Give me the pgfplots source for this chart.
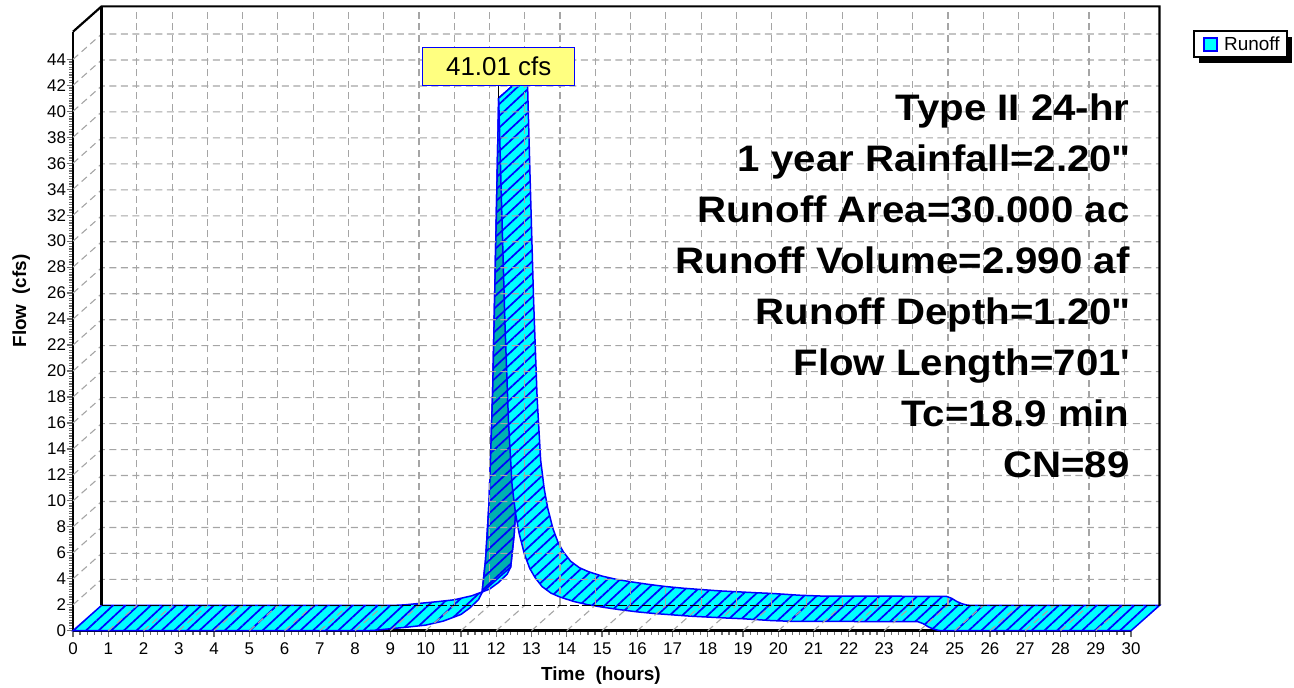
\documentclass[border=0pt]{standalone}
\usepackage{fontspec}
\setmainfont{Liberation Sans}
\newfontfamily\infofam[FakeStretch=1.09]{Liberation Sans}
\usepackage{pgfplots}
\usepackage{pgfplotstable}
\pgfplotsset{compat=1.18}
\usepgfplotslibrary{fillbetween}
\usetikzlibrary{patterns.meta}

\definecolor{ribbon}{RGB}{0,255,255}
\definecolor{ribbondark}{RGB}{0,176,176}
\definecolor{edgeblue}{RGB}{0,0,255}
\definecolor{gridgray}{RGB}{165,165,165}
\definecolor{tickgray}{RGB}{110,110,110}
\definecolor{tagyellow}{RGB}{255,255,128}

% runoff hydrograph, front edge of the ribbon (hours, cfs)
\pgfplotstableread{
t      q
0.00   0.00
8.30   0.00
8.60   0.04
9.00   0.15
9.50   0.28
10.00  0.43
10.50  0.74
11.00  1.25
11.25  1.75
11.50  2.40
11.60  2.95
11.70  5.50
11.80  10.00
11.90  18.50
12.00  31.50
12.07  41.01
12.15  33.00
12.25  23.50
12.35  16.00
12.45  11.20
12.55  9.00
12.65  7.50
12.80  5.90
12.95  4.80
13.10  4.10
13.30  3.40
13.55  2.90
13.80  2.60
14.20  2.25
14.60  2.00
15.00  1.82
15.50  1.62
16.00  1.45
16.50  1.32
17.00  1.22
17.50  1.12
18.00  1.05
18.50  0.98
19.00  0.92
19.40  0.85
19.80  0.78
20.40  0.72
21.00  0.72
22.00  0.71
23.00  0.70
23.95  0.70
24.10  0.55
24.25  0.30
24.40  0.12
24.55  0.02
24.65  0.00
30.00  0.00
}\runoff

\tikzset{
  gridline/.style={gridgray, line width=1.1bp, dash pattern=on 7bp off 4.5bp},
  hatch/.style={postaction={pattern={Lines[angle=43,distance=8.6bp,line width=1.7bp]}, pattern color=edgeblue}},
  ribbonedge/.style={draw=edgeblue, line width=1.5bp},
}
\newcommand{\infofont}{\infofam\fontsize{37}{40}\selectfont\bfseries}
\newcommand{\labfont}{\fontsize{19}{21}\selectfont\bfseries}

\begin{document}
\begin{tikzpicture}
\path (0,0) rectangle (1294bp,685bp);
\begin{axis}[
  at={(73bp,54.3bp)}, anchor=south west,
  scale only axis, width=1058bp, height=599bp,
  xmin=0, xmax=30, ymin=0, ymax=46.13,
  axis x line*=bottom, axis y line*=left,
  x axis line style={-, black, line width=3bp},
  y axis line style={-, black, line width=2.5bp},
  xtick={0,1,...,30}, ytick={0,2,...,44},
  minor x tick num=4, minor y tick num=9,
  tick align=outside,
  major tick length=6.5bp, minor tick length=4bp,
  tick style={tickgray, line width=1.2bp},
  ticklabel style={font=\fontsize{17}{19}\selectfont},
  yticklabel style={xshift=3bp},
  xticklabel style={yshift=-2bp},
  /pgf/number format/assume math mode=true,
  clip=false,
]
% back wall, side wall and floor grid
\pgfplotsinvokeforeach{1,...,29}{
  \draw[gridline] (axis cs:#1,0) ++(axis direction cs:0.81,1.95) -- ++(axis direction cs:0,46.13);
  \draw[gridline] (axis cs:#1,0) -- ++(axis direction cs:0.81,1.95);
}
\pgfplotsinvokeforeach{2,4,...,44}{
  \draw[gridline] (axis cs:0,#1) -- ++(axis direction cs:0.81,1.95) -- ++(axis direction cs:30,0);
}
\draw[black, line width=1.5bp, dash pattern=on 9bp off 3bp] (axis cs:0,0) ++(axis direction cs:0.81,1.95) -- ++(axis direction cs:30,0);
\draw[black, line width=2.5bp] (axis cs:0,0) ++(axis direction cs:0.81,1.95) -- ++(axis direction cs:0,46.13);
\draw[black, line width=2.2bp] (axis cs:0,46.13) -- ++(axis direction cs:0.81,1.95) -- ++(axis direction cs:30,0) -- ++(axis direction cs:0,-46.13);

% ribbon edges: front curve and the same curve pushed back in depth
\addplot[draw=none, forget plot, name path=FL, restrict x to domain=-1:12.08] table[x=t, y=q] {\runoff};
\addplot[draw=none, forget plot, name path=BL, restrict x to domain=0:12.89] table[x expr=\thisrow{t}+0.81, y expr=\thisrow{q}+1.95] {\runoff};
\addplot[draw=none, forget plot, name path=FU, restrict x to domain=11.59:12.08] table[x=t, y=q] {\runoff};
\addplot[draw=none, forget plot, name path=BU, restrict x to domain=12.40:12.89] table[x expr=\thisrow{t}+0.81, y expr=\thisrow{q}+1.95] {\runoff};
\addplot[draw=none, forget plot, name path=FR, restrict x to domain=12.06:31] table[x=t, y=q] {\runoff};
\addplot[draw=none, forget plot, name path=BR, restrict x to domain=12.87:32] table[x expr=\thisrow{t}+0.81, y expr=\thisrow{q}+1.95] {\runoff};

\addplot[fill=ribbon, ribbonedge, hatch, forget plot] fill between[of=FL and BL];
\addplot[fill=ribbondark, ribbonedge, hatch, forget plot] fill between[of=FU and BU];
\addplot[fill=ribbon, ribbonedge, hatch, forget plot] fill between[of=FR and BR];

% peak tag
\draw[black, line width=1bp] (axis cs:12.07,41.01) -- ++(0,12bp)
  node[anchor=south, fill=tagyellow, draw=edgeblue, line width=1.5bp, minimum width=152bp,
       minimum height=38bp, inner sep=0pt, font=\fontsize{26}{28}\selectfont] {41.01 cfs};
\end{axis}

% legend
\fill[black] (1199bp,622bp) rectangle (1292bp,648bp);
\draw[black, fill=white, line width=1.3bp] (1194bp,628bp) rectangle (1287bp,654bp);
\draw[edgeblue, fill=ribbon, line width=1.3bp] (1204bp,634bp) rectangle (1217bp,647bp);
\node[anchor=base west, inner sep=0pt, font=\fontsize{19}{21}\selectfont] at (1224bp,634bp) {Runoff};

\node[rotate=90, anchor=base, font=\labfont] at (26bp,384bp) {Flow\hspace{10bp}(cfs)};
\node[anchor=base, font=\labfont] at (601bp,5bp) {Time\ \ (hours)};

\node[anchor=base east, font=\infofont] at (1133bp,564bp) {Type II 24-hr};
\node[anchor=base east, font=\infofont] at (1133bp,513bp) {1 year Rainfall=2.20\textquotedbl};
\node[anchor=base east, font=\infofont] at (1133bp,462bp) {Runoff Area=30.000 ac};
\node[anchor=base east, font=\infofont] at (1133bp,411bp) {Runoff Volume=2.990 af};
\node[anchor=base east, font=\infofont] at (1133bp,360bp) {Runoff Depth=1.20\textquotedbl};
\node[anchor=base east, font=\infofont] at (1133bp,309bp) {Flow Length=701\textquotesingle};
\node[anchor=base east, font=\infofont] at (1133bp,258bp) {Tc=18.9 min};
\node[anchor=base east, font=\infofont] at (1133bp,207bp) {CN=89};
\end{tikzpicture}
\end{document}
